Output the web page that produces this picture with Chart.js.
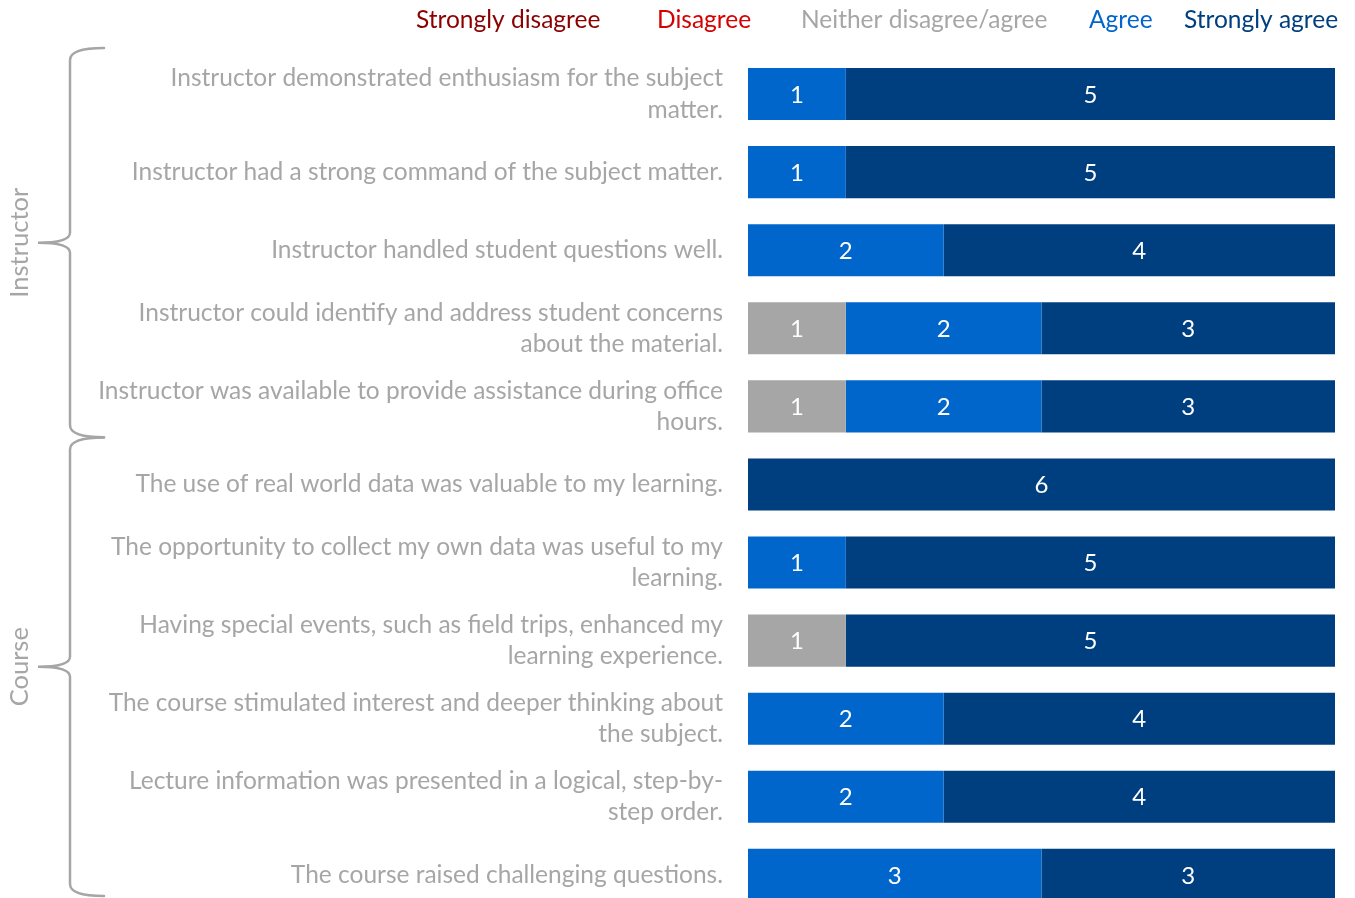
<!DOCTYPE html>
<html><head><meta charset="utf-8">
<script src="https://cdn.jsdelivr.net/npm/chart.js@4/dist/chart.umd.min.js"></script>
<style>
html,body{margin:0;padding:0;background:#fff;overflow:hidden}
#wrap{width:1355px;height:898px;overflow:hidden;position:relative}
#box{width:1355px;height:970px;position:absolute;left:0;top:0}
</style></head>
<body><div id="wrap"><div id="box"><canvas id="c"></canvas></div></div>
<script>
const categories = [
  ["Instructor demonstrated enthusiasm for the subject","matter."],
  "Instructor had a strong command of the subject matter.",
  "Instructor handled student questions well.",
  ["Instructor could identify and address student concerns","about the material."],
  ["Instructor was available to provide assistance during office","hours."],
  "The use of real world data was valuable to my learning.",
  ["The opportunity to collect my own data was useful to my","learning."],
  ["Having special events, such as field trips, enhanced my","learning experience."],
  ["The course stimulated interest and deeper thinking about","the subject."],
  ["Lecture information was presented in a logical, step-by-","step order."],
  "The course raised challenging questions."
];
const seriesNames = ["Strongly disagree","Disagree","Neither disagree/agree","Agree","Strongly agree"];
const stronglyDisagree = [0,0,0,0,0,0,0,0,0,0,0];
const disagree         = [0,0,0,0,0,0,0,0,0,0,0];
const neither          = [0,0,0,1,1,0,0,1,0,0,0];
const agree            = [1,1,2,2,2,0,1,0,2,2,3];
const stronglyAgree    = [5,5,4,3,3,6,5,5,4,4,3];
const groupNames = ["Instructor","Course"];
const groupSizes = [5,6];
const xMax = 6;

const colors = ["#8B0000","#D50000","#A6A6A6","#0066CC","#003F7F"];
const FONT = "Lato, 'Open Sans', sans-serif";
const GRAY = "#A6A6A6";

const values = [stronglyDisagree, disagree, neither, agree, stronglyAgree];

const overlay = {
  id:'overlay',
  afterDatasetsDraw(chart){
    const ctx = chart.ctx;
    ctx.save();
    ctx.fillStyle = '#fff';
    ctx.font = "24px " + FONT;
    ctx.textAlign = 'center'; ctx.textBaseline = 'middle';
    chart.data.datasets.forEach((ds,di)=>{
      const meta = chart.getDatasetMeta(di);
      meta.data.forEach((el,i)=>{
        const v = ds.data[i];
        if(!v) return;
        const p = el.getProps(['x','base','y'], true);
        ctx.fillText(String(v), (p.x + p.base)/2, p.y + 1);
      });
    });
    ctx.restore();
  },
  afterDraw(chart){
    const ctx = chart.ctx;
    const y = chart.scales.y;
    ctx.save();
    ctx.font = "24.5px " + FONT;
    ctx.textBaseline = 'middle'; ctx.textAlign = 'left';
    const starts = [416, 657, 801, 1089, 1184];
    chart.data.datasets.forEach((ds,i)=>{
      ctx.fillStyle = colors[i];
      ctx.fillText(ds.label, starts[i], 20);
    });
    ctx.restore();
    ctx.save();
    ctx.strokeStyle = GRAY; ctx.lineWidth = 2.5; ctx.lineCap='round';
    ctx.fillStyle = GRAY; ctx.font = "25.5px " + FONT;
    let idx = 0;
    groupSizes.forEach((n,g)=>{
      const first = idx, last = idx + n - 1; idx += n;
      const top = y.getPixelForValue(first) - (g===0 ? 46 : 47);
      const bot = Math.min(y.getPixelForValue(last) + 31, 896);
      const mid = (top + bot)/2;
      const xl = 70, xr = 104, xt = 38;
      ctx.beginPath();
      ctx.moveTo(xr, top);
      ctx.quadraticCurveTo(xl, top, xl, top+12);
      ctx.lineTo(xl, mid-10);
      ctx.quadraticCurveTo(xl, mid, xt, mid);
      ctx.quadraticCurveTo(xl, mid, xl, mid+10);
      ctx.lineTo(xl, bot-12);
      ctx.quadraticCurveTo(xl, bot, xr, bot);
      ctx.stroke();
      ctx.save();
      ctx.translate(20, mid);
      ctx.rotate(-Math.PI/2);
      ctx.textAlign='center'; ctx.textBaseline='middle';
      ctx.fillText(groupNames[g], 0, 0);
      ctx.restore();
    });
    ctx.restore();
  }
};

new Chart(document.getElementById('c'), {
  type:'bar',
  data:{
    labels: categories,
    datasets: seriesNames.map((name,i)=>({
      label: name,
      data: values[i],
      backgroundColor: colors[i],
      borderWidth: 0,
      categoryPercentage: 1,
      barPercentage: 0.667
    }))
  },
  options:{
    indexAxis:'y',
    responsive:true,
    maintainAspectRatio:false,
    animation:false,
    devicePixelRatio:1,
    layout:{padding:{top:55,right:20,left:0,bottom:2}},
    plugins:{legend:{display:false}, tooltip:{enabled:false}},
    scales:{
      x:{stacked:true, min:0, max:xMax, display:false},
      y:{
        stacked:true,
        grid:{display:false, drawTicks:false},
        border:{display:false},
        ticks:{color:GRAY, padding:25, font:{family:FONT, size:24.5, lineHeight:1.27}},
        afterFit(scale){ scale.width = 748; }
      }
    }
  },
  plugins:[overlay]
});
</script></body></html>
